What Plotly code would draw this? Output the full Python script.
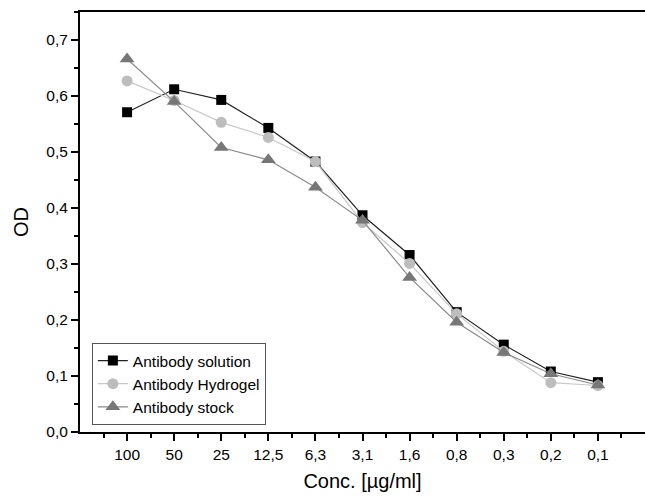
import plotly.graph_objects as go

categories = ["100", "50", "25", "12,5", "6,3", "3,1", "1,6", "0,8", "0,3", "0,2", "0,1"]
solution = [0.571, 0.612, 0.593, 0.543, 0.483, 0.387, 0.316, 0.214, 0.156, 0.108, 0.089]
hydrogel = [0.627, 0.592, 0.553, 0.526, 0.483, 0.374, 0.301, 0.211, 0.144, 0.088, 0.083]
stock = [0.666, 0.590, 0.508, 0.486, 0.437, 0.378, 0.276, 0.196, 0.142, 0.104, 0.084]

pos = list(range(1, len(categories) + 1))
minor_pos = [p - 0.5 for p in pos] + [len(pos) + 0.5]

fig = go.Figure()
fig.add_trace(go.Scatter(x=pos, y=solution, name="Antibody solution", mode="lines+markers",
                         line=dict(color="#222222", width=1.2),
                         marker=dict(symbol="square", size=10, color="#000000")))
fig.add_trace(go.Scatter(x=pos, y=hydrogel, name="Antibody Hydrogel", mode="lines+markers",
                         line=dict(color="#c8c8c8", width=1.2),
                         marker=dict(symbol="circle", size=11, color="#bdbdbd")))
fig.add_trace(go.Scatter(x=pos, y=stock, name="Antibody stock", mode="lines+markers",
                         line=dict(color="#8a8a8a", width=1.2),
                         marker=dict(symbol="triangle-up", size=13, color="#777777")))

font = "Liberation Sans, Arial, sans-serif"
fig.update_layout(
    width=645, height=496,
    margin=dict(l=80, r=0, t=12, b=64),
    plot_bgcolor="white", paper_bgcolor="white",
    separators=",.",
    font=dict(family=font, size=15, color="#000000"),
    showlegend=True,
    legend=dict(x=0.021, y=0.212, xanchor="left", yanchor="top",
                bordercolor="#555555", borderwidth=1, bgcolor="white",
                font=dict(size=15.5, family=font), tracegroupgap=0, itemwidth=30),
    xaxis=dict(range=[0, 12], tickmode="array", tickvals=pos, ticktext=categories,
               showline=True, linecolor="#000000", linewidth=2, mirror=True,
               ticks="outside", ticklen=7, tickwidth=2, tickcolor="#000000",
               showgrid=False, zeroline=False,
               minor=dict(tickmode="array", tickvals=minor_pos, ticks="outside",
                          ticklen=4, tickwidth=2, tickcolor="#000000", showgrid=False),
               title=dict(text="Conc. [µg/ml]", font=dict(size=20, family=font), standoff=12),
               tickfont=dict(size=15.5, family=font)),
    yaxis=dict(range=[0, 0.75], dtick=0.1, tick0=0, tickformat=".1f",
               showline=True, linecolor="#000000", linewidth=2,
               ticks="outside", ticklen=7, tickwidth=2, tickcolor="#000000",
               showgrid=False, zeroline=False,
               minor=dict(dtick=0.05, ticks="outside", ticklen=4, tickwidth=2,
                          tickcolor="#000000", showgrid=False),
               title=dict(text="OD", font=dict(size=20, family=font), standoff=12),
               tickfont=dict(size=15.5, family=font)),
)

fig.write_html("out.html")
